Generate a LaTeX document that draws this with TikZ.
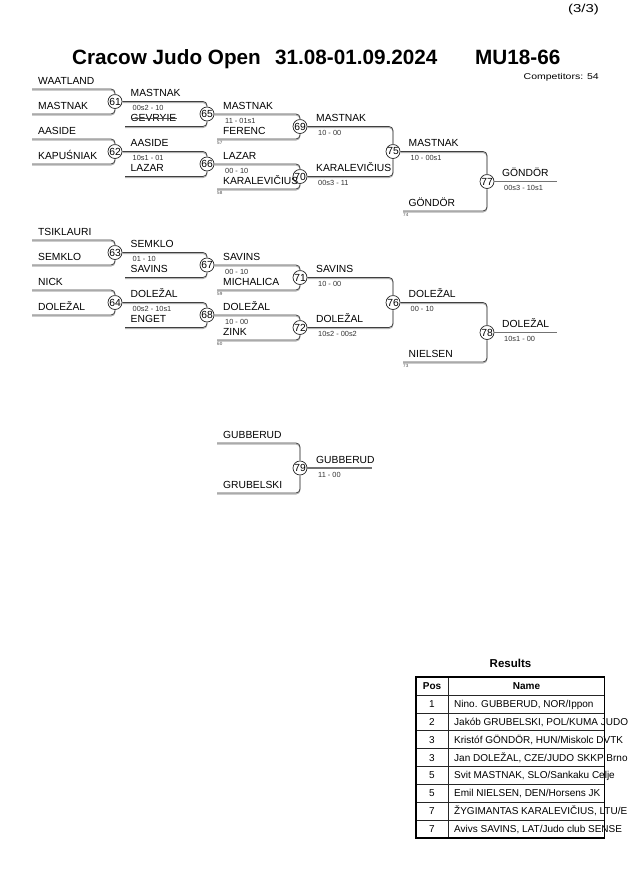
\documentclass[tikz,border=0pt]{standalone}
\usepackage{fontspec}
\setmainfont{Liberation Sans}

\tikzset{
	player/.style={anchor=base west, inner sep=0pt, font=\fontsize{10.3}{12}\selectfont},
	score/.style={anchor=base west, inner sep=0pt, text=black!80, font=\fontsize{7.4}{8}\selectfont},
	fightno/.style={anchor=base west, inner sep=0pt, text=black!70, font=\fontsize{4.6}{5}\selectfont},
	match/.style={circle, draw=black!85, line width=0.7pt, minimum size=14pt, inner sep=0pt, font=\fontsize{10.3}{11}\selectfont},
	bline/.style={draw=black!75, line width=0.8pt, rounded corners=4pt, preaction={draw=black!30, line width=0.9pt, transform canvas={yshift=-1.1pt}}},
	finalline/.style={draw=black!55, line width=1.3pt},
	tline/.style={draw=black!85, line width=0.7pt}
}

\begin{document}
\begin{tikzpicture}[x=1pt, y=-1pt]
	\useasboundingbox (0,0) rectangle (630,891);
	% header
	\node[anchor=base east, inner sep=0pt] (page) at (599,13) {\scalebox{1.3}[1]{\fontsize{11.5}{12}\selectfont (3/3)}};
	\node[anchor=base west, inner sep=0pt, font=\bfseries\fontsize{20.7}{22}\selectfont] (tit1) at (72,65) {Cracow Judo Open};
	\node[anchor=base west, inner sep=0pt, font=\bfseries\fontsize{20.7}{22}\selectfont] (tit2) at (275,65) {31.08-01.09.2024};
	\node[anchor=base west, inner sep=0pt, font=\bfseries\fontsize{20.7}{22}\selectfont] (tit3) at (475,65) {MU18-66};
	\node[anchor=base east, inner sep=0pt] (comp) at (599,79) {\scalebox{1.25}[1]{\fontsize{8.4}{9}\selectfont Competitors: 54}};

	% pool A
	\node[match] (m61) at (115,101.5) {61};
	\node[match] (m62) at (115,151.5) {62};
	\node[match] (m65) at (207,114) {65};
	\node[match] (m66) at (207,164) {66};
	\node[match] (m69) at (300,126.5) {69};
	\node[match] (m70) at (300,176.5) {70};
	\node[match] (m75) at (393,151.5) {75};
	\node[match] (m77) at (487,181.5) {77};
	\coordinate (waatland) at (32,89);
	\coordinate (mastnak) at (32,114);
	\coordinate (aaside) at (32,139);
	\coordinate (kapusniak) at (32,164);
	\coordinate (gevryie) at (125,126.5);
	\coordinate (lazar) at (125,176.5);
	\coordinate (ferenc) at (217,139);
	\coordinate (karalevicius) at (217,189);
	\coordinate (gondor) at (403,211);
	\coordinate (e77) at (557,181.5);
	\draw[bline] (waatland) -| (m61);
	\draw[bline] (mastnak) -| (m61);
	\draw[bline] (aaside) -| (m62);
	\draw[bline] (kapusniak) -| (m62);
	\draw[bline] (m61) -| (m65);
	\draw[bline] (gevryie) -| (m65);
	\draw[bline] (m62) -| (m66);
	\draw[bline] (lazar) -| (m66);
	\draw[bline] (m65) -| (m69);
	\draw[bline] (ferenc) -| (m69);
	\draw[bline] (m66) -| (m70);
	\draw[bline] (karalevicius) -| (m70);
	\draw[bline] (m69) -| (m75);
	\draw[bline] (m70) -| (m75);
	\draw[bline] (m75) -| (m77);
	\draw[bline] (gondor) -| (m77);
	\draw[finalline] (m77) -- (e77);
	\node[player] (a-waatland) at (38,84.2) {WAATLAND};
	\node[player] (a-mastnak1) at (38,109.2) {MASTNAK};
	\node[player] (a-aaside1) at (38,134.2) {AASIDE};
	\node[player] (a-kapusniak) at (38,159.2) {KAPUŚNIAK};
	\node[player] (a-mastnak2) at (130.5,96.7) {MASTNAK};
	\node[player] (a-gevryie) at (130.5,121.7) {GEVRYIE};
	\node[player] (a-aaside2) at (130.5,146.7) {AASIDE};
	\node[player] (a-lazar2) at (130.5,171.7) {LAZAR};
	\node[player] (a-mastnak3) at (223,109.2) {MASTNAK};
	\node[player] (a-ferenc) at (223,134.2) {FERENC};
	\node[player] (a-lazar3) at (223,159.2) {LAZAR};
	\node[player] (a-karal3) at (223,184.2) {KARALEVIČIUS};
	\node[player] (a-mastnak4) at (316,121.7) {MASTNAK};
	\node[player] (a-karal4) at (316,171.7) {KARALEVIČIUS};
	\node[player] (a-mastnak5) at (408.5,146.7) {MASTNAK};
	\node[player] (a-gondor5) at (408.5,206.2) {GÖNDÖR};
	\node[player] (a-gondor6) at (502,176.7) {GÖNDÖR};
	\draw[black!70, line width=0.7pt] ([yshift=3.6pt]a-gevryie.base west) -- ([yshift=3.6pt]a-gevryie.base east);
	\node[score] (s61) at (132.5,110.5) {00s2 - 10};
	\node[score] (s62) at (132.5,160.5) {10s1 - 01};
	\node[score] (s65) at (225,123) {11 - 01s1};
	\node[score] (s66) at (225,173) {00 - 10};
	\node[score] (s69) at (318,135.5) {10 - 00};
	\node[score] (s70) at (318,185.5) {00s3 - 11};
	\node[score] (s75) at (410.5,160.5) {10 - 00s1};
	\node[score] (s77) at (504,190.5) {00s3 - 10s1};
	\node[fightno] (f57) at (217,144.8) {57};
	\node[fightno] (f58) at (217,194.8) {58};
	\node[fightno] (f74) at (403,216.8) {74};

	% pool B
	\node[match] (m63) at (115,252.5) {63};
	\node[match] (m64) at (115,302.5) {64};
	\node[match] (m67) at (207,265) {67};
	\node[match] (m68) at (207,315) {68};
	\node[match] (m71) at (300,277.5) {71};
	\node[match] (m72) at (300,327.5) {72};
	\node[match] (m76) at (393,302.5) {76};
	\node[match] (m78) at (487,332.5) {78};
	\coordinate (tsiklauri) at (32,240);
	\coordinate (semklo) at (32,265);
	\coordinate (nick) at (32,290);
	\coordinate (dolezal) at (32,315);
	\coordinate (savins) at (125,277.5);
	\coordinate (enget) at (125,327.5);
	\coordinate (michalica) at (217,290);
	\coordinate (zink) at (217,340);
	\coordinate (nielsen) at (403,362);
	\coordinate (e78) at (557,332.5);
	\draw[bline] (tsiklauri) -| (m63);
	\draw[bline] (semklo) -| (m63);
	\draw[bline] (nick) -| (m64);
	\draw[bline] (dolezal) -| (m64);
	\draw[bline] (m63) -| (m67);
	\draw[bline] (savins) -| (m67);
	\draw[bline] (m64) -| (m68);
	\draw[bline] (enget) -| (m68);
	\draw[bline] (m67) -| (m71);
	\draw[bline] (michalica) -| (m71);
	\draw[bline] (m68) -| (m72);
	\draw[bline] (zink) -| (m72);
	\draw[bline] (m71) -| (m76);
	\draw[bline] (m72) -| (m76);
	\draw[bline] (m76) -| (m78);
	\draw[bline] (nielsen) -| (m78);
	\draw[finalline] (m78) -- (e78);
	\node[player] (b-tsiklauri) at (38,235.2) {TSIKLAURI};
	\node[player] (b-semklo1) at (38,260.2) {SEMKLO};
	\node[player] (b-nick) at (38,285.2) {NICK};
	\node[player] (b-dolezal1) at (38,310.2) {DOLEŽAL};
	\node[player] (b-semklo2) at (130.5,247.7) {SEMKLO};
	\node[player] (b-savins2) at (130.5,272.7) {SAVINS};
	\node[player] (b-dolezal2) at (130.5,297.7) {DOLEŽAL};
	\node[player] (b-enget) at (130.5,322.7) {ENGET};
	\node[player] (b-savins3) at (223,260.2) {SAVINS};
	\node[player] (b-michalica) at (223,285.2) {MICHALICA};
	\node[player] (b-dolezal3) at (223,310.2) {DOLEŽAL};
	\node[player] (b-zink) at (223,335.2) {ZINK};
	\node[player] (b-savins4) at (316,272.7) {SAVINS};
	\node[player] (b-dolezal4) at (316,322.7) {DOLEŽAL};
	\node[player] (b-dolezal5) at (408.5,297.7) {DOLEŽAL};
	\node[player] (b-nielsen) at (408.5,357.2) {NIELSEN};
	\node[player] (b-dolezal6) at (502,327.7) {DOLEŽAL};
	\node[score] (s63) at (132.5,261.5) {01 - 10};
	\node[score] (s64) at (132.5,311.5) {00s2 - 10s1};
	\node[score] (s67) at (225,274) {00 - 10};
	\node[score] (s68) at (225,324) {10 - 00};
	\node[score] (s71) at (318,286.5) {10 - 00};
	\node[score] (s72) at (318,336.5) {10s2 - 00s2};
	\node[score] (s76) at (410.5,311.5) {00 - 10};
	\node[score] (s78) at (504,341.5) {10s1 - 00};
	\node[fightno] (f59) at (217,295.8) {59};
	\node[fightno] (f60) at (217,345.8) {60};
	\node[fightno] (f73) at (403,367.8) {73};

	% final
	\node[match] (m79) at (300,468) {79};
	\coordinate (gubberud) at (217,443);
	\coordinate (grubelski) at (217,493);
	\coordinate (e79) at (372,468);
	\draw[bline] (gubberud) -| (m79);
	\draw[bline] (grubelski) -| (m79);
	\draw[finalline] (m79) -- (e79);
	\node[player] (c-gubberud) at (223,438.2) {GUBBERUD};
	\node[player] (c-grubelski) at (223,488.2) {GRUBELSKI};
	\node[player] (c-winner) at (316,463.2) {GUBBERUD};
	\node[score] (s79) at (318,477) {11 - 00};

	% results
	\node[anchor=base, inner sep=0pt, font=\bfseries\fontsize{11.5}{12}\selectfont] (restitle) at (510.5,667) {Results};
	\foreach \r in {0,...,7}
		\draw[tline] (416,{695+\r*17.85}) -- (604.5,{695+\r*17.85});
	\draw[tline] (448,677) -- (448,838);
	\draw[line width=1.6pt] (416,677) rectangle (604.5,838);
	\node[anchor=base, inner sep=0pt, font=\bfseries\fontsize{10}{11}\selectfont] (hpos) at (432,689) {Pos};
	\node[anchor=base, inner sep=0pt, font=\bfseries\fontsize{10}{11}\selectfont] (hname) at (526.5,689) {Name};
	\foreach \p/\n [count=\i] in {1/{Nino. GUBBERUD, NOR/Ippon}, 2/{Jakób GRUBELSKI, POL/KUMA JUDO}, 3/{Kristóf GÖNDÖR, HUN/Miskolc DVTK}, 3/{Jan DOLEŽAL, CZE/JUDO SKKP Brno}, 5/{Svit MASTNAK, SLO/Sankaku Celje}, 5/{Emil NIELSEN, DEN/Horsens JK}, 7/{ŽYGIMANTAS KARALEVIČIUS, LTU/E}, 7/{Avivs SAVINS, LAT/Judo club SENSE}}{
		\node[anchor=base, inner sep=0pt, font=\fontsize{10}{11}\selectfont] (pos\i) at (432,{695+(\i-1)*17.85+12.5}) {\p};
		\node[anchor=base west, inner sep=0pt, font=\fontsize{10}{11}\selectfont] (res\i) at (454,{695+(\i-1)*17.85+12.5}) {\n};
	}
\end{tikzpicture}
\end{document}
